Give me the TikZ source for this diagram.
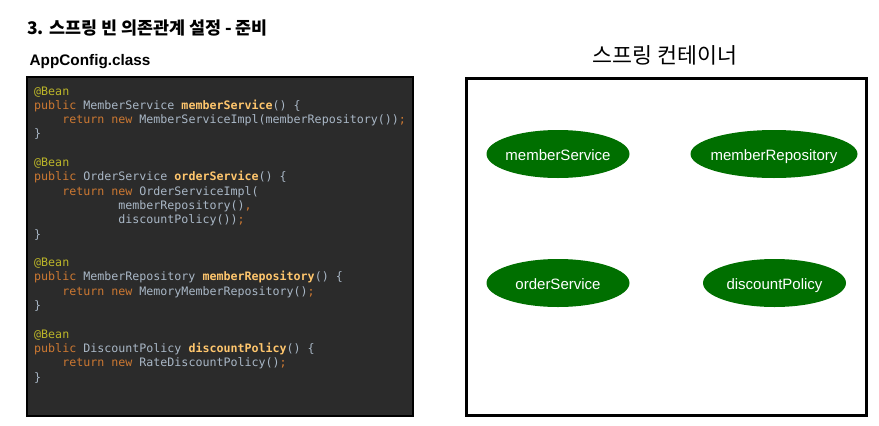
\documentclass[tikz,border=0pt]{standalone}
\usepackage{fontspec}
\usetikzlibrary{shapes.geometric}
\setmainfont{Liberation Sans}
\setmonofont{DejaVu Sans Mono}
\newfontfamily\krfont{Noto Sans CJK KR}
\definecolor{codebg}{HTML}{2B2B2B}
\definecolor{annc}{HTML}{BBB529}
\definecolor{kwc}{HTML}{CC7832}
\definecolor{fnc}{HTML}{FFC66D}
\definecolor{txtc}{HTML}{A9B7C6}
\definecolor{beangreen}{HTML}{006F00}
\newcommand\ann[1]{\textcolor{annc}{#1}}
\newcommand\kw[1]{\textcolor{kwc}{#1}}
\newcommand\fn[1]{\textcolor{fnc}{\bfseries #1}}
\newcommand\ind[1]{\phantom{#1}}
\tikzset{
  codeline/.style={anchor=base west, inner sep=0pt, text=txtc,
    font=\ttfamily\fontsize{11.65}{14}\selectfont},
  bean/.style={ellipse, fill=beangreen, inner sep=0pt, minimum height=48pt,
    text=white, text height=13.3pt, text depth=0.7pt, font=\fontsize{15}{18}\selectfont},
  frame/.style={draw=black, inner sep=0pt},
}
\begin{document}
\begin{tikzpicture}[x=1pt,y=-1pt]
\useasboundingbox (0,0) rectangle (879,426);
% titles
\node[anchor=base west, inner sep=0pt, font=\krfont\bfseries\fontsize{17.4}{20}\selectfont] (title) at (27,34) {3. 스프링 빈 의존관계 설정 - 준비};
\node[anchor=base west, inner sep=0pt, font=\bfseries\fontsize{15.3}{18}\selectfont] (cfg) at (29.5,65.5) {AppConfig.class};
\node[anchor=base, inner sep=0pt, font=\krfont\fontsize{21.7}{24}\selectfont] (ctitle) at (665,63.5) {스프링 컨테이너};
% boxes
\node[frame, fill=codebg, line width=2pt, minimum width=386pt, minimum height=338.5pt] (codebox) at (220,246.3) {};
\node[frame, line width=2.5pt, minimum width=400pt, minimum height=337pt] (container) at (666.5,247) {};
% code
\node[codeline] (c1) at (34,95) {\ann{@Bean}};
\node[codeline] (c2) at (34,109.3) {\kw{public} MemberService \fn{memberService}() \{};
\node[codeline] (c3) at (34,123.6) {\ind{0000}\kw{return new} MemberServiceImpl(memberRepository())\kw{;}};
\node[codeline] (c4) at (34,137.9) {\}};
\node[codeline] (c6) at (34,166.5) {\ann{@Bean}};
\node[codeline] (c7) at (34,180.8) {\kw{public} OrderService \fn{orderService}() \{};
\node[codeline] (c8) at (34,195.1) {\ind{0000}\kw{return new} OrderServiceImpl(};
\node[codeline] (c9) at (34,209.4) {\ind{000000000000}memberRepository()\kw{,}};
\node[codeline] (c10) at (34,223.7) {\ind{000000000000}discountPolicy())\kw{;}};
\node[codeline] (c11) at (34,238) {\}};
\node[codeline] (c13) at (34,266.6) {\ann{@Bean}};
\node[codeline] (c14) at (34,280.9) {\kw{public} MemberRepository \fn{memberRepository}() \{};
\node[codeline] (c15) at (34,295.2) {\ind{0000}\kw{return new} MemoryMemberRepository()\kw{;}};
\node[codeline] (c16) at (34,309.5) {\}};
\node[codeline] (c18) at (34,338.1) {\ann{@Bean}};
\node[codeline] (c19) at (34,352.4) {\kw{public} DiscountPolicy \fn{discountPolicy}() \{};
\node[codeline] (c20) at (34,366.7) {\ind{0000}\kw{return new} RateDiscountPolicy()\kw{;}};
\node[codeline] (c21) at (34,381) {\}};
% beans
\node[bean, minimum width=143pt] (ms) at (558,154) {\makebox[0pt]{memberService}};
\node[bean, minimum width=167pt] (mr) at (774,154) {\makebox[0pt]{memberRepository}};
\node[bean, minimum width=143pt] (os) at (558,283) {\makebox[0pt]{orderService}};
\node[bean, minimum width=143pt] (dp) at (774.5,283) {\makebox[0pt]{discountPolicy}};
\end{tikzpicture}
\end{document}
